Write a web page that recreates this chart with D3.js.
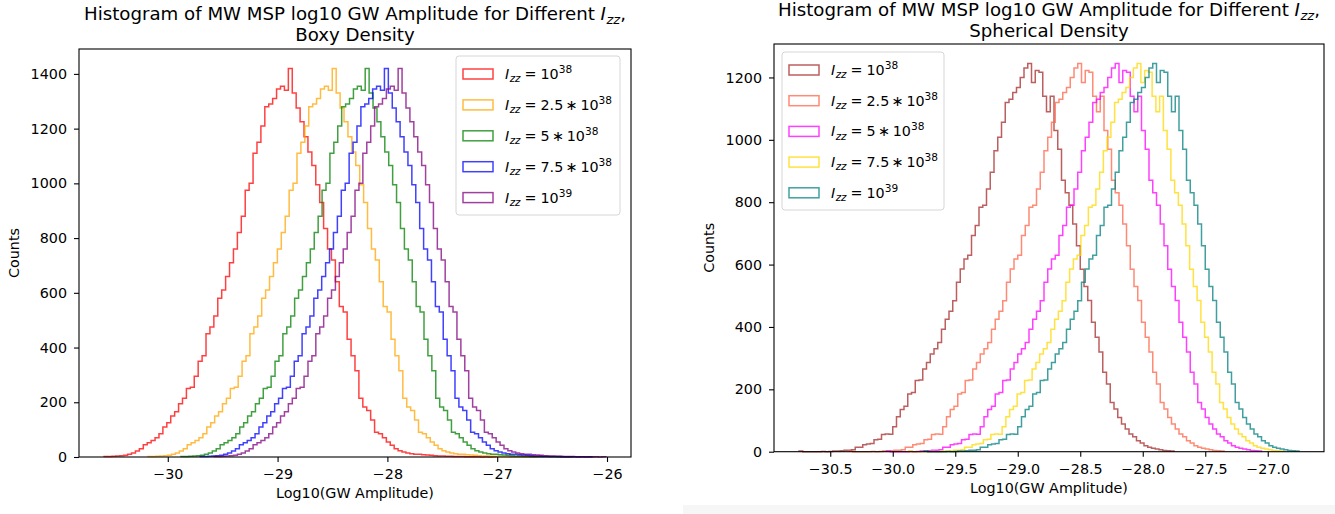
<!DOCTYPE html>
<html>
<head>
<meta charset="utf-8">
<script src="https://cdn.jsdelivr.net/npm/d3@7"></script>
<style>
  body { margin: 0; background: #fff; }
  svg { display: block; }
  text { font-family: "DejaVu Sans", sans-serif; fill: #000; }
</style>
</head>
<body>
<svg id="chart" width="1335" height="514"></svg>
<script>
// ---------- Data ----------
// Counts per bin (100 equal-width bins). Scaling Izz multiplies every
// amplitude by the same factor, so each Izz gives the same counts and only
// the bin origin moves along the log axis.
const boxyCounts = [
  2, 2, 3, 4, 5, 6, 10, 15, 22, 30,
  45, 52, 60, 70, 85, 110, 125, 150, 165, 195,
  215, 250, 255, 295, 350, 370, 450, 475, 515, 580,
  610, 660, 710, 760, 820, 880, 975, 1000, 1110, 1150,
  1210, 1280, 1290, 1310, 1345, 1355, 1340, 1420, 1330, 1275,
  1225, 1170, 1115, 1065, 995, 930, 835, 760, 720, 640,
  550, 530, 430, 370, 315, 215, 183, 170, 135, 90,
  85, 70, 55, 43, 30, 23, 18, 15, 12, 10,
  10, 8, 7, 6, 5, 4, 4, 3, 3, 2,
  2, 2, 1, 1, 1, 1, 0, 1, 0, 1
];
const boxyBinWidth = 0.0357;
const boxyBinStarts = [-30.58, -30.18, -29.88, -29.705, -29.58];
const boxyColors = ["red", "orange", "green", "blue", "purple"];

const sphericalCounts = [
  2, 0, 0, 0, 0, 0, 1, 0, 1, 2,
  2, 3, 5, 5, 6, 14, 14, 22, 25, 26,
  38, 40, 55, 57, 56, 80, 112, 135, 146, 185,
  190, 228, 230, 265, 286, 313, 330, 350, 393, 425,
  450, 484, 543, 586, 618, 630, 693, 725, 784, 790,
  842, 896, 965, 1008, 1056, 1120, 1130, 1152, 1168, 1200,
  1230, 1245, 1184, 1222, 1217, 1140, 1090, 1140, 1030, 970,
  870, 830, 790, 730, 660, 585, 530, 485, 415, 367,
  320, 255, 217, 158, 137, 110, 89, 73, 57, 48,
  35, 28, 19, 14, 11, 9, 6, 4, 3, 2
];
const sphericalBinWidth = 0.030;
const sphericalBinStarts = [-30.75, -30.35, -30.05, -29.875, -29.75];
const sphericalColors = ["brown", "tomato", "magenta", "gold", "teal"];

// Legend labels: Izz = mantissa * 10^exponent
const izzMantissas = ["", "2.5", "5", "7.5", ""];
const izzExponents = ["38", "38", "38", "38", "39"];

const boxyXTicks = [-30, -29, -28, -27, -26];
const sphericalXTicks = [-30.5, -30.0, -29.5, -29.0, -28.5, -28.0, -27.5, -27.0];
const boxyYTicks = [0, 200, 400, 600, 800, 1000, 1200, 1400];
const sphericalYTicks = [0, 200, 400, 600, 800, 1000, 1200];

const titleMain = "Histogram of MW MSP log10 GW Amplitude for Different ";
const boxySubtitle = "Boxy Density";
const sphericalSubtitle = "Spherical Density";
const xLabel = "Log10(GW Amplitude)";
const yLabel = "Counts";

// ---------- Drawing ----------
const svg = d3.select("#chart");
const FONT = 14.3;
const TITLE_FONT = 18.2;
const minus = s => s.replace(/-/g, "\u2212");

svg.append("rect").attr("x", 683).attr("y", 505).attr("width", 652).attr("height", 9).attr("fill", "#f6f6f6");

// Italic I with subscript zz, in the style of mathtext
function appendIzz(text, size) {
  text.append("tspan").attr("font-style", "italic").text("I");
  text.append("tspan").attr("font-style", "italic").attr("font-size", size * 0.72)
    .attr("dy", size * 0.22).attr("dx", 0.5).text("zz");
  return size * 0.22;
}

function legendLabel(text, mantissa, exponent, size) {
  const down = appendIzz(text, size);
  text.append("tspan").attr("dy", -down).attr("dx", size * 0.28).text("=");
  if (mantissa) {
    text.append("tspan").attr("dx", size * 0.28).text(mantissa);
    text.append("tspan").attr("dx", size * 0.18).text("\u2217");
    text.append("tspan").attr("dx", size * 0.18).text("10");
  } else {
    text.append("tspan").attr("dx", size * 0.28).text("10");
  }
  text.append("tspan").attr("font-size", size * 0.74).attr("dy", -size * 0.42).text(exponent);
}

function drawPanel(cfg) {
  const nBins = cfg.counts.length;
  const lo = d3.min(cfg.starts);
  const hi = d3.max(cfg.starts) + nBins * cfg.binWidth;
  const pad = 0.05 * (hi - lo);
  const maxCount = d3.max(cfg.counts);

  const x = d3.scaleLinear().domain([lo - pad, hi + pad]).range([cfg.box.left, cfg.box.right]);
  const y = d3.scaleLinear().domain([0, maxCount * 1.05]).range([cfg.box.bottom, cfg.box.top]);

  const g = svg.append("g");

  // Step outlines, one per Izz value
  const line = d3.line().x(d => x(d[0])).y(d => y(d[1]));
  cfg.starts.forEach((start, k) => {
    const pts = [[start, 0]];
    cfg.counts.forEach((c, i) => {
      const e0 = start + i * cfg.binWidth;
      const e1 = start + (i + 1) * cfg.binWidth;
      pts.push([e0, c], [e1, c]);
    });
    pts.push([start + nBins * cfg.binWidth, 0]);
    g.append("path").attr("d", line(pts))
      .attr("fill", "none").attr("stroke", cfg.colors[k])
      .attr("stroke-opacity", 0.75).attr("stroke-width", 1.5)
      .attr("stroke-linejoin", "miter");
  });

  // Axes
  const xAxis = d3.axisBottom(x).tickValues(cfg.xTicks).tickSize(5).tickPadding(7)
    .tickFormat(d => minus(cfg.xFormat(d)));
  const yAxis = d3.axisLeft(y).tickValues(cfg.yTicks).tickSize(5).tickPadding(7)
    .tickFormat(d3.format("d"));
  const gx = g.append("g").attr("transform", `translate(0,${cfg.box.bottom})`).call(xAxis);
  const gy = g.append("g").attr("transform", `translate(${cfg.box.left},0)`).call(yAxis);
  [gx, gy].forEach(a => {
    a.select(".domain").remove();
    a.selectAll("line").attr("stroke", "#000").attr("stroke-width", 1.1);
    a.selectAll("text").attr("font-size", FONT).attr("font-family", "DejaVu Sans").attr("fill", "#222");
  });

  // Frame
  g.append("rect")
    .attr("x", cfg.box.left).attr("y", cfg.box.top)
    .attr("width", cfg.box.right - cfg.box.left).attr("height", cfg.box.bottom - cfg.box.top)
    .attr("fill", "none").attr("stroke", "#000").attr("stroke-width", 1.1);

  // Axis labels
  const cx = (cfg.box.left + cfg.box.right) / 2;
  g.append("text").attr("x", cx).attr("y", cfg.box.bottom + 41)
    .attr("text-anchor", "middle").attr("font-size", FONT).attr("fill", "#222").text(xLabel);
  const cy = (cfg.box.top + cfg.box.bottom) / 2;
  g.append("text").attr("transform", `translate(${cfg.box.left - 60},${cy}) rotate(-90)`)
    .attr("text-anchor", "middle").attr("font-size", FONT).attr("fill", "#222").text(yLabel);

  // Title (two lines)
  const TS = TITLE_FONT;
  const t1 = g.append("text").attr("x", cx).attr("y", cfg.titleY[0])
    .attr("text-anchor", "middle").attr("font-size", TS).attr("fill", "#222");
  t1.append("tspan").text(titleMain);
  const down = appendIzz(t1, TS);
  t1.append("tspan").attr("dy", -down).text(",");
  g.append("text").attr("x", cx).attr("y", cfg.titleY[1])
    .attr("text-anchor", "middle").attr("font-size", TS).attr("fill", "#222").text(cfg.subtitle);

  // Legend
  const L = cfg.legend;
  g.append("rect").attr("x", L.x).attr("y", L.y).attr("width", L.w).attr("height", L.h)
    .attr("rx", 3).attr("fill", "#fff").attr("fill-opacity", 0.8)
    .attr("stroke", "#d6d6d6").attr("stroke-width", 1);
  cfg.colors.forEach((col, k) => {
    const ry = L.y + 18 + k * L.step;
    g.append("rect").attr("x", L.x + 7).attr("y", ry - 5).attr("width", 30).attr("height", 10)
      .attr("fill", "none").attr("stroke", col).attr("stroke-opacity", 0.75).attr("stroke-width", 1.5);
    const t = g.append("text").attr("x", L.x + 49).attr("y", ry + 5).attr("font-size", FONT).attr("fill", "#222");
    legendLabel(t, izzMantissas[k], izzExponents[k], FONT);
  });
}

drawPanel({
  counts: boxyCounts, binWidth: boxyBinWidth, starts: boxyBinStarts, colors: boxyColors,
  box: { left: 79, right: 631, top: 49, bottom: 457 },
  xTicks: boxyXTicks, xFormat: d3.format(".0f"), yTicks: boxyYTicks,
  titleY: [20, 41], subtitle: boxySubtitle,
  legend: { x: 456, y: 56, w: 164, h: 159, step: 30.9 }
});

drawPanel({
  counts: sphericalCounts, binWidth: sphericalBinWidth, starts: sphericalBinStarts, colors: sphericalColors,
  box: { left: 774, right: 1324, top: 44, bottom: 451.7 },
  xTicks: sphericalXTicks, xFormat: d3.format(".1f"), yTicks: sphericalYTicks,
  titleY: [16, 37], subtitle: sphericalSubtitle,
  legend: { x: 782, y: 52, w: 162, h: 158, step: 30.7 }
});
</script>
</body>
</html>
